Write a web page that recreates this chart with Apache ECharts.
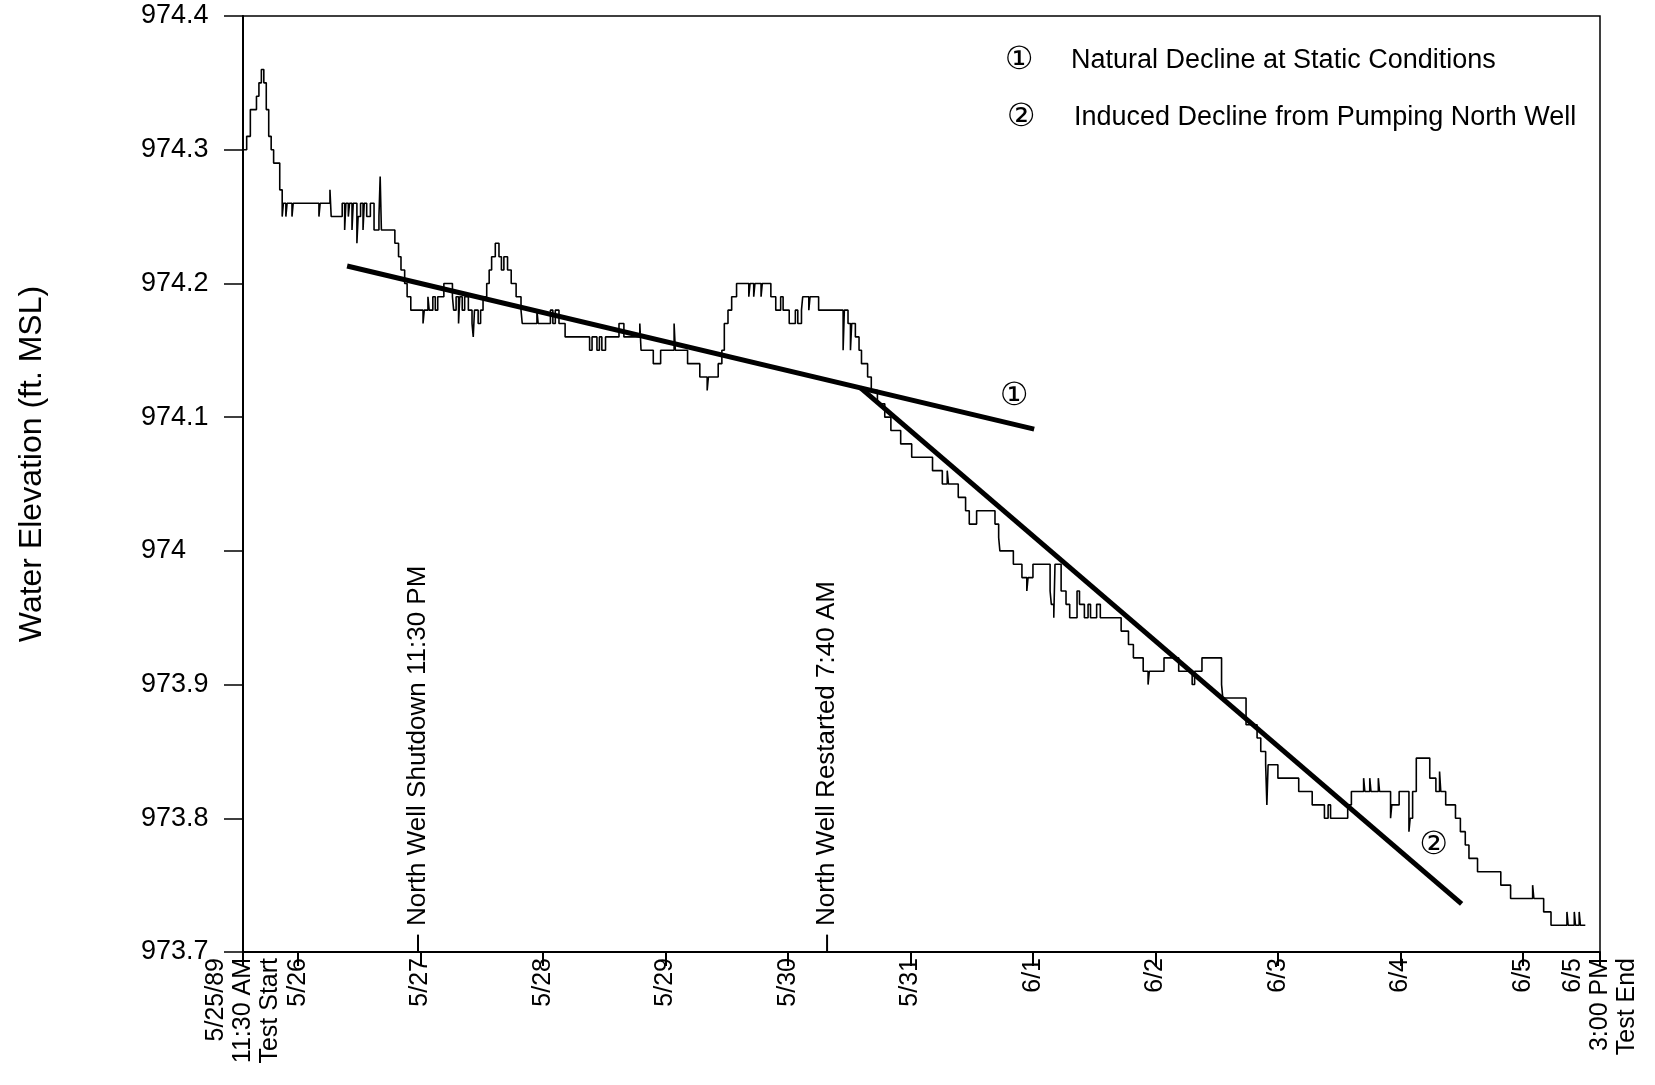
<!DOCTYPE html>
<html><head><meta charset="utf-8">
<script src="https://cdn.jsdelivr.net/npm/echarts@6/dist/echarts.min.js"></script>
<style>html,body{margin:0;padding:0;background:#fff}#c{width:1655px;height:1085px}</style>
</head><body><div id="c"></div>
<script>
// x unit: days since 5/25/89 00:00
const xTickValues = [0.55, 1, 2, 3, 4, 5, 6, 7, 8, 9, 10, 11, 11.63];
const xTickLabels = ['5/25/89\n11:30 AM\nTest Start', '5/26', '5/27', '5/28', '5/29', '5/30', '5/31', '6/1', '6/2', '6/3', '6/4', '6/5', '6/5\n3:00 PM\nTest End'];

const elevDays = [
0.55,0.58,0.61,0.66,0.68,0.70,0.72,0.74,0.76,0.78,0.80,0.85,0.87,0.88,0.90,0.91,0.95,0.96,1.17,1.18,
1.26,1.27,1.36,1.38,1.39,1.41,1.42,1.44,1.45,1.48,1.49,1.51,1.53,1.54,1.56,1.59,1.62,1.66,1.67,1.68,
1.79,1.82,1.84,1.87,1.89,1.92,2.02,2.03,2.06,2.07,2.10,2.12,2.14,2.19,2.26,2.27,2.29,2.31,2.32,2.34,
2.36,2.39,2.42,2.43,2.44,2.47,2.49,2.51,2.54,2.56,2.58,2.61,2.64,2.66,2.68,2.71,2.74,2.78,2.82,2.83,
2.95,2.96,3.06,3.08,3.10,3.13,3.18,3.38,3.40,3.44,3.46,3.48,3.51,3.62,3.66,3.79,3.80,3.90,3.96,4.07,
4.08,4.18,4.28,4.34,4.35,4.43,4.46,4.48,4.51,4.54,4.58,4.68,4.69,4.72,4.73,4.78,4.79,4.86,4.90,4.94,
4.96,5.01,5.06,5.08,5.11,5.12,5.17,5.18,5.25,5.45,5.46,5.49,5.51,5.52,5.55,5.58,5.60,5.65,5.68,5.73,
5.79,5.84,5.92,6.01,6.18,6.26,6.30,6.31,6.39,6.45,6.48,6.54,6.69,6.72,6.73,6.84,6.91,6.95,6.96,7.00,
7.14,7.15,7.17,7.18,7.23,7.27,7.30,7.36,7.38,7.42,7.45,7.47,7.52,7.55,7.72,7.78,7.82,7.90,7.94,7.95,
8.07,8.19,8.30,8.32,8.38,8.54,8.55,8.74,8.83,8.86,8.90,8.91,8.92,9.00,9.17,9.28,9.38,9.41,9.43,9.57,
9.60,9.70,9.71,9.75,9.76,9.82,9.83,9.92,9.93,9.99,10.07,10.08,10.10,10.13,10.24,10.29,10.32,10.33,10.37,10.45,
10.49,10.53,10.56,10.63,10.82,10.90,11.08,11.09,11.17,11.23,11.36,11.37,11.42,11.43,11.46,11.47,11.51
];
const elevValues = [
974.30,974.31,974.33,974.34,974.35,974.36,974.35,974.33,974.31,974.30,974.29,974.27,974.25,974.26,974.25,974.26,974.25,974.26,974.25,974.26,
974.27,974.25,974.26,974.24,974.26,974.25,974.26,974.24,974.26,974.23,974.25,974.26,974.24,974.26,974.25,974.26,974.24,974.25,974.28,974.24,
974.23,974.22,974.21,974.20,974.19,974.18,974.17,974.18,974.19,974.18,974.19,974.18,974.19,974.20,974.19,974.18,974.19,974.17,974.19,974.18,
974.19,974.18,974.17,974.16,974.18,974.17,974.18,974.19,974.20,974.21,974.22,974.23,974.22,974.21,974.22,974.21,974.20,974.19,974.18,974.17,
974.18,974.17,974.18,974.17,974.18,974.17,974.16,974.15,974.16,974.15,974.16,974.15,974.16,974.17,974.16,974.17,974.15,974.14,974.15,974.17,
974.15,974.14,974.13,974.12,974.13,974.14,974.15,974.17,974.18,974.19,974.20,974.19,974.20,974.19,974.20,974.19,974.20,974.19,974.18,974.19,
974.18,974.17,974.18,974.17,974.18,974.19,974.18,974.19,974.18,974.15,974.18,974.17,974.15,974.17,974.16,974.15,974.14,974.13,974.12,974.11,
974.10,974.09,974.08,974.07,974.06,974.05,974.06,974.05,974.04,974.03,974.02,974.03,974.02,974.01,974.00,973.99,973.98,973.97,973.98,973.99,
973.97,973.96,973.95,973.99,973.97,973.96,973.95,973.97,973.96,973.95,973.96,973.95,973.96,973.95,973.94,973.93,973.92,973.91,973.90,973.91,
973.92,973.91,973.90,973.91,973.92,973.90,973.89,973.87,973.86,973.85,973.84,973.81,973.84,973.83,973.82,973.81,973.80,973.81,973.80,973.81,
973.82,973.83,973.82,973.83,973.82,973.83,973.82,973.80,973.81,973.82,973.79,973.80,973.82,973.845,973.83,973.82,973.835,973.82,973.81,973.80,
973.79,973.78,973.77,973.76,973.75,973.74,973.75,973.74,973.73,973.72,973.73,973.72,973.73,973.72,973.73,973.72,973.72
];

const naturalDays = [1.40, 7.01];
const naturalValues = [974.213, 974.091];
const inducedDays = [5.59, 10.50];
const inducedValues = [974.122, 973.736];

const eventDays = [1.979, 5.319];
const eventLabels = ['North Well Shutdown 11:30 PM', 'North Well Restarted 7:40 AM'];

const legendMarks = ['\u2460', '\u2461'];
const legendTexts = ['Natural Decline at Static Conditions', 'Induced Decline from Pumping North Well'];

const FONT = '"Liberation Sans", Arial, Helvetica, sans-serif';
const CIRC = '"DejaVu Sans", "Noto Sans CJK JP", sans-serif';
const zip = (a, b) => a.map((v, i) => [v, b[i]]);

const chart = echarts.init(document.getElementById('c'), null, {renderer: 'canvas'});

const eventSeries = eventDays.map(d => ({
  type: 'line', data: [[d, 973.7], [d, 973.713]], symbol: 'none', silent: true,
  lineStyle: {color: '#000', width: 2}
}));

chart.setOption({
  animation: false,
  backgroundColor: '#fff',
  grid: {left: 243, right: 55, top: 16, bottom: 133, show: true, borderColor: '#000', borderWidth: 1.5},
  xAxis: {
    type: 'value', min: 0.55, max: 11.63,
    axisLine: {lineStyle: {color: '#000', width: 2}},
    splitLine: {show: false},
    axisTick: {customValues: xTickValues, length: 14, lineStyle: {color: '#000', width: 2}},
    axisLabel: {
      customValues: xTickValues, rotate: 90, fontSize: 25, color: '#000', fontFamily: FONT,
      lineHeight: 27, margin: 6, showMinLabel: true, showMaxLabel: true, hideOverlap: false,
      formatter: v => { const i = xTickValues.findIndex(t => Math.abs(t - v) < 1e-6); return i >= 0 ? xTickLabels[i] : ''; }
    }
  },
  yAxis: {
    type: 'value', min: 973.7, max: 974.4, interval: 0.1,
    name: 'Water Elevation (ft. MSL)', nameLocation: 'middle', nameRotate: 90, nameGap: 195,
    nameTextStyle: {fontSize: 32, color: '#000', fontFamily: FONT, padding: [0, 0, 0, 40]},
    axisLine: {show: true, lineStyle: {color: '#000', width: 2}},
    axisTick: {show: true, length: 19, lineStyle: {color: '#000', width: 1.5}},
    axisLabel: {fontSize: 27, color: '#000', fontFamily: FONT, margin: 102, align: 'left',
      formatter: v => String(+v.toFixed(1))},
    splitLine: {show: false}
  },
  series: [
    {type: 'line', name: 'Water Elevation', data: zip(elevDays, elevValues), step: 'end', symbol: 'none',
     lineStyle: {color: '#000', width: 1.6}},
    {type: 'line', name: 'Natural Decline', data: zip(naturalDays, naturalValues), symbol: 'none',
     lineStyle: {color: '#000', width: 5}},
    {type: 'line', name: 'Induced Decline', data: zip(inducedDays, inducedValues), symbol: 'none',
     lineStyle: {color: '#000', width: 5}},
    ...eventSeries
  ]
});

const g = [];
// legend block
[[1019, 61, 1071], [1021, 118, 1074]].forEach((p, i) => {
  g.push({type: 'text', x: p[0], y: p[1], style: {text: legendMarks[i], font: '32px ' + CIRC, fill: '#000', align: 'center', verticalAlign: 'middle'}});
  g.push({type: 'text', x: p[2], y: p[1], style: {text: legendTexts[i], font: '27px ' + FONT, fill: '#000', align: 'left', verticalAlign: 'middle'}});
});
// trend line markers
const endNat = chart.convertToPixel({gridIndex: 0}, [naturalDays[1], naturalValues[1]]);
g.push({type: 'text', x: endNat[0] - 20, y: endNat[1] - 32, style: {text: legendMarks[0], font: '32px ' + CIRC, fill: '#000', align: 'center', verticalAlign: 'middle'}});
const endInd = chart.convertToPixel({gridIndex: 0}, [inducedDays[1], inducedValues[1]]);
g.push({type: 'text', x: endInd[0] - 28, y: endInd[1] - 58, style: {text: legendMarks[1], font: '32px ' + CIRC, fill: '#000', align: 'center', verticalAlign: 'middle'}});
// event annotations
eventDays.forEach((d, i) => {
  const p = chart.convertToPixel({gridIndex: 0}, [d, 973.7]);
  g.push({type: 'text', x: p[0], y: p[1] - 26, rotation: Math.PI / 2,
    style: {text: eventLabels[i], font: '26px ' + FONT, fill: '#000', align: 'left', verticalAlign: 'middle'}});
});
chart.setOption({graphic: g});
</script>
</body></html>
